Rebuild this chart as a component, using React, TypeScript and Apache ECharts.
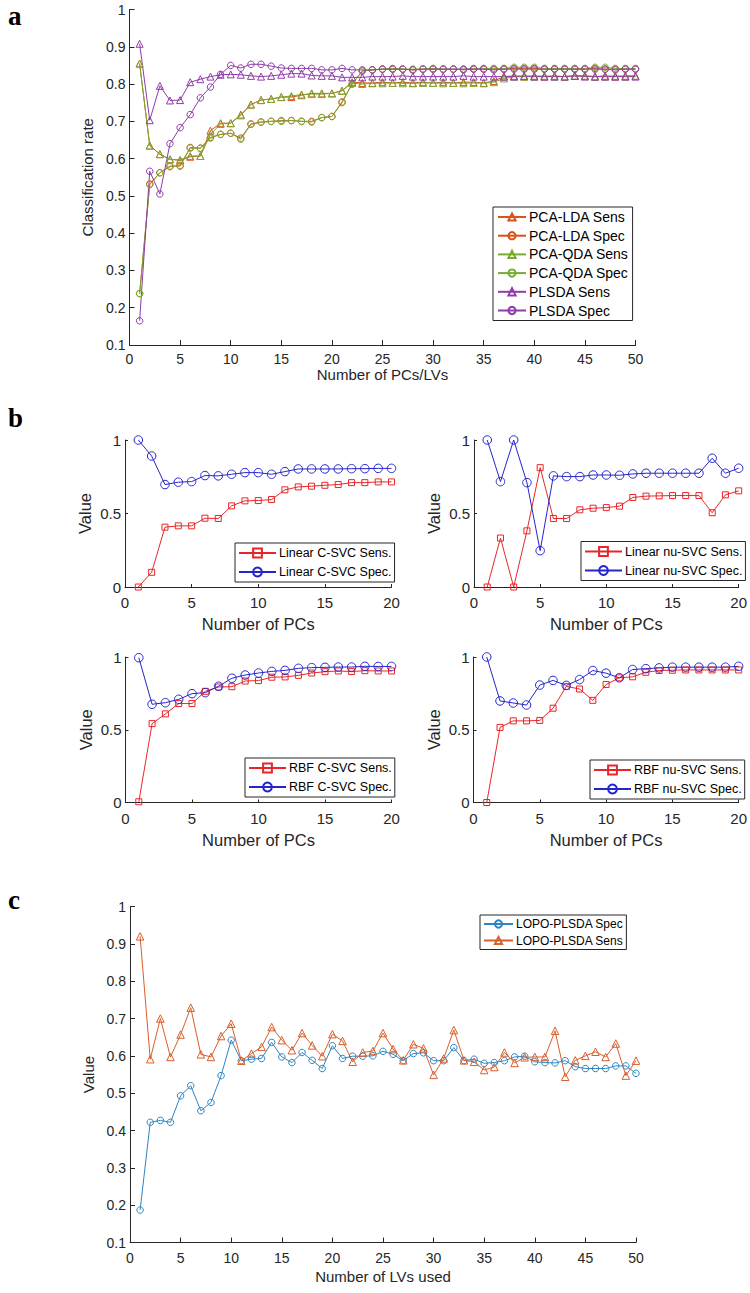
import React, { useEffect, useRef } from "react";
import * as echarts from "echarts";

// ---------- Panel a ----------
const kA = [1,2,3,4,5,6,7,8,9,10,11,12,13,14,15,16,17,18,19,20,21,22,23,24,25,26,27,28,29,30,31,32,33,34,35,36,37,38,39,40,41,42,43,44,45,46,47,48,49,50];
const pcaLdaSens = [0.855,0.635,0.612,0.598,0.595,0.605,0.607,0.675,0.695,0.695,0.718,0.745,0.757,0.760,0.765,0.765,0.770,0.775,0.775,0.775,0.782,0.805,0.803,0.803,0.805,0.803,0.805,0.803,0.805,0.803,0.805,0.803,0.805,0.805,0.803,0.808,0.820,0.822,0.820,0.822,0.820,0.822,0.820,0.822,0.822,0.820,0.822,0.820,0.822,0.822];
const pcaLdaSpec = [0.238,0.532,0.562,0.580,0.580,0.630,0.628,0.657,0.665,0.668,0.655,0.693,0.698,0.700,0.702,0.702,0.700,0.700,0.710,0.713,0.752,0.800,0.835,0.838,0.840,0.840,0.840,0.838,0.840,0.840,0.840,0.840,0.838,0.840,0.840,0.840,0.840,0.842,0.842,0.842,0.840,0.840,0.840,0.840,0.840,0.842,0.840,0.840,0.840,0.840];
const pcaQdaSens = [0.855,0.635,0.612,0.598,0.597,0.607,0.607,0.665,0.693,0.695,0.716,0.745,0.757,0.760,0.765,0.768,0.772,0.773,0.773,0.775,0.782,0.803,0.800,0.802,0.802,0.803,0.802,0.802,0.803,0.803,0.802,0.803,0.802,0.803,0.802,0.805,0.815,0.820,0.820,0.820,0.822,0.820,0.820,0.822,0.822,0.820,0.820,0.822,0.820,0.822];
const pcaQdaSpec = [0.238,0.530,0.562,0.578,0.582,0.628,0.628,0.655,0.665,0.668,0.652,0.692,0.698,0.700,0.700,0.702,0.700,0.698,0.710,0.713,0.750,0.800,0.835,0.838,0.840,0.842,0.840,0.840,0.840,0.842,0.840,0.840,0.840,0.842,0.842,0.842,0.842,0.845,0.845,0.845,0.842,0.842,0.842,0.842,0.842,0.845,0.845,0.842,0.842,0.842];
const plsdaSens = [0.908,0.703,0.795,0.756,0.757,0.805,0.813,0.820,0.825,0.826,0.825,0.822,0.820,0.822,0.825,0.828,0.828,0.823,0.822,0.822,0.818,0.818,0.818,0.820,0.820,0.820,0.822,0.820,0.820,0.820,0.820,0.820,0.822,0.820,0.820,0.820,0.820,0.820,0.822,0.820,0.820,0.820,0.820,0.822,0.820,0.820,0.820,0.820,0.820,0.820];
const plsdaSpec = [0.165,0.566,0.505,0.640,0.683,0.718,0.763,0.792,0.826,0.850,0.843,0.853,0.853,0.848,0.843,0.842,0.842,0.842,0.838,0.838,0.842,0.838,0.838,0.838,0.840,0.840,0.840,0.838,0.840,0.840,0.840,0.840,0.840,0.840,0.840,0.838,0.840,0.840,0.840,0.840,0.840,0.840,0.840,0.840,0.840,0.840,0.840,0.838,0.840,0.840];

// ---------- Panel b ----------
const kB = [1,2,3,4,5,6,7,8,9,10,11,12,13,14,15,16,17,18,19,20];
const linCSens = [0,0.10,0.407,0.416,0.416,0.468,0.466,0.552,0.586,0.588,0.595,0.661,0.681,0.686,0.692,0.697,0.71,0.71,0.715,0.715];
const linCSpec = [1,0.891,0.697,0.713,0.717,0.758,0.756,0.767,0.778,0.778,0.767,0.785,0.803,0.803,0.803,0.803,0.805,0.805,0.807,0.807];
const linNuSens = [0,0.333,0,0.382,0.812,0.466,0.466,0.525,0.536,0.54,0.55,0.609,0.618,0.62,0.622,0.622,0.622,0.505,0.627,0.654];
const linNuSpec = [1,0.717,1,0.71,0.247,0.756,0.751,0.751,0.762,0.762,0.76,0.769,0.774,0.774,0.774,0.774,0.774,0.876,0.774,0.808];
const rbfCSens = [0.005,0.542,0.609,0.68,0.68,0.764,0.794,0.796,0.835,0.838,0.861,0.863,0.874,0.89,0.899,0.904,0.90,0.906,0.904,0.904];
const rbfCSpec = [0.995,0.675,0.686,0.709,0.748,0.755,0.799,0.854,0.876,0.89,0.901,0.908,0.922,0.927,0.929,0.931,0.931,0.936,0.935,0.935];
const rbfNuSens = [0,0.516,0.561,0.561,0.564,0.648,0.798,0.78,0.702,0.811,0.857,0.864,0.895,0.907,0.909,0.911,0.911,0.911,0.911,0.911];
const rbfNuSpec = [1,0.698,0.684,0.67,0.807,0.839,0.805,0.845,0.907,0.889,0.857,0.914,0.92,0.925,0.93,0.93,0.93,0.93,0.93,0.936];

// ---------- Panel c ----------
const kC = kA;
const lopoSpec = [0.187,0.422,0.427,0.422,0.493,0.52,0.453,0.475,0.547,0.642,0.587,0.591,0.593,0.636,0.597,0.582,0.609,0.588,0.566,0.627,0.593,0.599,0.599,0.60,0.612,0.604,0.587,0.606,0.608,0.587,0.587,0.622,0.587,0.591,0.58,0.582,0.587,0.597,0.599,0.584,0.582,0.581,0.587,0.571,0.566,0.566,0.566,0.573,0.573,0.553];
const lopoSens = [0.92,0.591,0.70,0.597,0.657,0.729,0.604,0.597,0.653,0.686,0.587,0.606,0.624,0.677,0.642,0.615,0.661,0.628,0.599,0.658,0.64,0.584,0.609,0.613,0.661,0.618,0.588,0.631,0.62,0.549,0.593,0.669,0.588,0.584,0.562,0.57,0.609,0.581,0.596,0.597,0.597,0.667,0.544,0.588,0.60,0.611,0.597,0.633,0.547,0.587];

const FONT = '"Liberation Sans", Arial, Helvetica, sans-serif';
const SERIF = 'bold 27px "Liberation Serif", "Times New Roman", serif';
const AX = "#262626";

const C_LDA = "#D95319";
const C_QDA = "#77AC30";
const C_PLS = "#8E3CA8";
const C_RED = "#E8262A";
const C_BLUE = "#2525CC";
const C_CB = "#2E86C1";
const C_CO = "#D95F2B";

function ser(name: string, xs: number[], ys: number[], idx: number, color: string, symbol: string, size: number) {
  return {
    type: "line",
    name,
    xAxisIndex: idx,
    yAxisIndex: idx,
    data: xs.map((x, i) => [x, ys[i]]),
    symbol,
    symbolSize: size,
    showAllSymbol: true,
    lineStyle: { color, width: 1 },
    itemStyle: { color: "rgba(255,255,255,0)", borderColor: color, borderWidth: 1 },
    emphasis: { disabled: true },
    silent: true,
  };
}

function xAx(idx: number, max: number, interval: number, name: string, fs: number, nameFs: number, nameGap: number, tickLen: number, labelMargin: number) {
  return {
    type: "value",
    gridIndex: idx,
    min: 0,
    max,
    interval,
    name,
    nameLocation: "middle",
    nameGap,
    nameTextStyle: { color: AX, fontSize: nameFs, fontFamily: FONT },
    axisLine: { show: true, onZero: false, lineStyle: { color: AX, width: 1 } },
    axisTick: { show: true, inside: true, length: tickLen, lineStyle: { color: AX, width: 1 } },
    axisLabel: { color: AX, fontSize: fs, fontFamily: FONT, margin: labelMargin },
    splitLine: { show: false },
  };
}

function yAx(idx: number, min: number, max: number, interval: number, name: string, fs: number, nameFs: number, nameGap: number, tickLen: number, labelMargin: number) {
  return {
    type: "value",
    gridIndex: idx,
    min,
    max,
    interval,
    name,
    nameLocation: "middle",
    nameGap,
    nameTextStyle: { color: AX, fontSize: nameFs, fontFamily: FONT },
    axisLine: { show: true, onZero: false, lineStyle: { color: AX, width: 1 } },
    axisTick: { show: true, inside: true, length: tickLen, lineStyle: { color: AX, width: 1 } },
    axisLabel: { color: AX, fontSize: fs, fontFamily: FONT, margin: labelMargin },
    splitLine: { show: false },
  };
}

function leg(names: string[], left: number, top: number, itemWidth: number, itemHeight: number, itemGap: number, fs: number, padding: number[]) {
  return {
    data: names,
    orient: "vertical",
    left,
    top,
    itemWidth,
    itemHeight,
    itemGap,
    padding,
    borderColor: AX,
    borderWidth: 1,
    borderRadius: 0,
    backgroundColor: "#ffffff",
    selectedMode: false,
    textStyle: { color: "#000", fontSize: fs, fontFamily: FONT, padding: [0, 0, 0, -2] },
  };
}

export default function App() {
  const ref = useRef<HTMLDivElement>(null);
  useEffect(() => {
    if (!ref.current) return;
    const chart = echarts.init(ref.current, null, { renderer: "svg" });
    const option: any = {
      animation: false,
      backgroundColor: "#ffffff",
      grid: [
        { left: 129.5, top: 9.5, width: 506, height: 335.5 },
        { left: 125, top: 440, width: 266.5, height: 147 },
        { left: 474, top: 440, width: 266, height: 147 },
        { left: 125.5, top: 657, width: 266, height: 145.5 },
        { left: 473.5, top: 657, width: 266, height: 145.5 },
        { left: 130, top: 906.5, width: 506, height: 336 },
      ],
      xAxis: [
        xAx(0, 50, 5, "Number of PCs/LVs", 14, 15, 21, 5, 7),
        xAx(1, 20, 5, "Number of PCs", 15, 16.5, 28.5, 3, 8),
        xAx(2, 20, 5, "Number of PCs", 15, 16.5, 28.5, 3, 8),
        xAx(3, 20, 5, "Number of PCs", 15, 16.5, 28.5, 3, 8),
        xAx(4, 20, 5, "Number of PCs", 15, 16.5, 28.5, 3, 8),
        xAx(5, 50, 5, "Number of LVs used", 14, 15, 26, 5, 8),
      ],
      yAxis: [
        yAx(0, 0.1, 1, 0.1, "Classification rate", 14, 15, 20, 5, 4),
        yAx(1, 0, 1, 0.5, "Value", 15, 16.5, 31.5, 3, 4),
        yAx(2, 0, 1, 0.5, "Value", 15, 16.5, 31.5, 3, 4),
        yAx(3, 0, 1, 0.5, "Value", 15, 16.5, 31.5, 3, 4),
        yAx(4, 0, 1, 0.5, "Value", 15, 16.5, 31.5, 3, 4),
        yAx(5, 0.1, 1, 0.1, "Value", 14, 15, 20, 5, 4),
      ],
      legend: [
        leg(["PCA-LDA Sens", "PCA-LDA Spec", "PCA-QDA Sens", "PCA-QDA Spec", "PLSDA Sens", "PLSDA Spec"], 493, 207, 28, 9, 4.7, 14, [3, 4, 3, 4]),
        leg(["Linear C-SVC Sens.", "Linear C-SVC Spec."], 235, 543, 37, 11, 6, 12.5, [3.5, 3, 3.5, 3]),
        leg(["Linear nu-SVC Sens.", "Linear nu-SVC Spec."], 581, 541.5, 37, 11, 6, 12.5, [3.5, 3, 3.5, 3]),
        leg(["RBF C-SVC Sens.", "RBF C-SVC Spec."], 245, 758, 37, 11, 6, 12.5, [3.5, 3, 3.5, 3]),
        leg(["RBF nu-SVC Sens.", "RBF nu-SVC Spec."], 590, 760, 37, 11, 6, 12.5, [3.5, 3, 3.5, 3]),
        leg(["LOPO-PLSDA Spec", "LOPO-PLSDA Sens"], 480, 915, 29, 9, 4.5, 12, [3, 3, 3, 3]),
      ],
      graphic: [
        { type: "text", left: 8, top: 2, style: { text: "a", font: SERIF, fill: "#000" } },
        { type: "text", left: 8, top: 404, style: { text: "b", font: SERIF, fill: "#000" } },
        { type: "text", left: 8, top: 886, style: { text: "c", font: SERIF, fill: "#000" } },
      ],
      series: [
        ser("PCA-LDA Sens", kA, pcaLdaSens, 0, C_LDA, "triangle", 7),
        ser("PCA-LDA Spec", kA, pcaLdaSpec, 0, C_LDA, "circle", 6.5),
        ser("PCA-QDA Sens", kA, pcaQdaSens, 0, C_QDA, "triangle", 7),
        ser("PCA-QDA Spec", kA, pcaQdaSpec, 0, C_QDA, "circle", 6.5),
        ser("PLSDA Sens", kA, plsdaSens, 0, C_PLS, "triangle", 7),
        ser("PLSDA Spec", kA, plsdaSpec, 0, C_PLS, "circle", 6.5),
        ser("Linear C-SVC Sens.", kB, linCSens, 1, C_RED, "rect", 6),
        ser("Linear C-SVC Spec.", kB, linCSpec, 1, C_BLUE, "circle", 8.5),
        ser("Linear nu-SVC Sens.", kB, linNuSens, 2, C_RED, "rect", 6),
        ser("Linear nu-SVC Spec.", kB, linNuSpec, 2, C_BLUE, "circle", 8.5),
        ser("RBF C-SVC Sens.", kB, rbfCSens, 3, C_RED, "rect", 6),
        ser("RBF C-SVC Spec.", kB, rbfCSpec, 3, C_BLUE, "circle", 8.5),
        ser("RBF nu-SVC Sens.", kB, rbfNuSens, 4, C_RED, "rect", 6),
        ser("RBF nu-SVC Spec.", kB, rbfNuSpec, 4, C_BLUE, "circle", 8.5),
        ser("LOPO-PLSDA Spec", kC, lopoSpec, 5, C_CB, "circle", 6.5),
        ser("LOPO-PLSDA Sens", kC, lopoSens, 5, C_CO, "triangle", 7.5),
      ],
    };
    chart.setOption(option);
    return () => chart.dispose();
  }, []);
  return (
    <div
      ref={ref}
      style={{ position: "absolute", left: 0, top: 0, width: 750, height: 1293, background: "#fff" }}
    />
  );
}
